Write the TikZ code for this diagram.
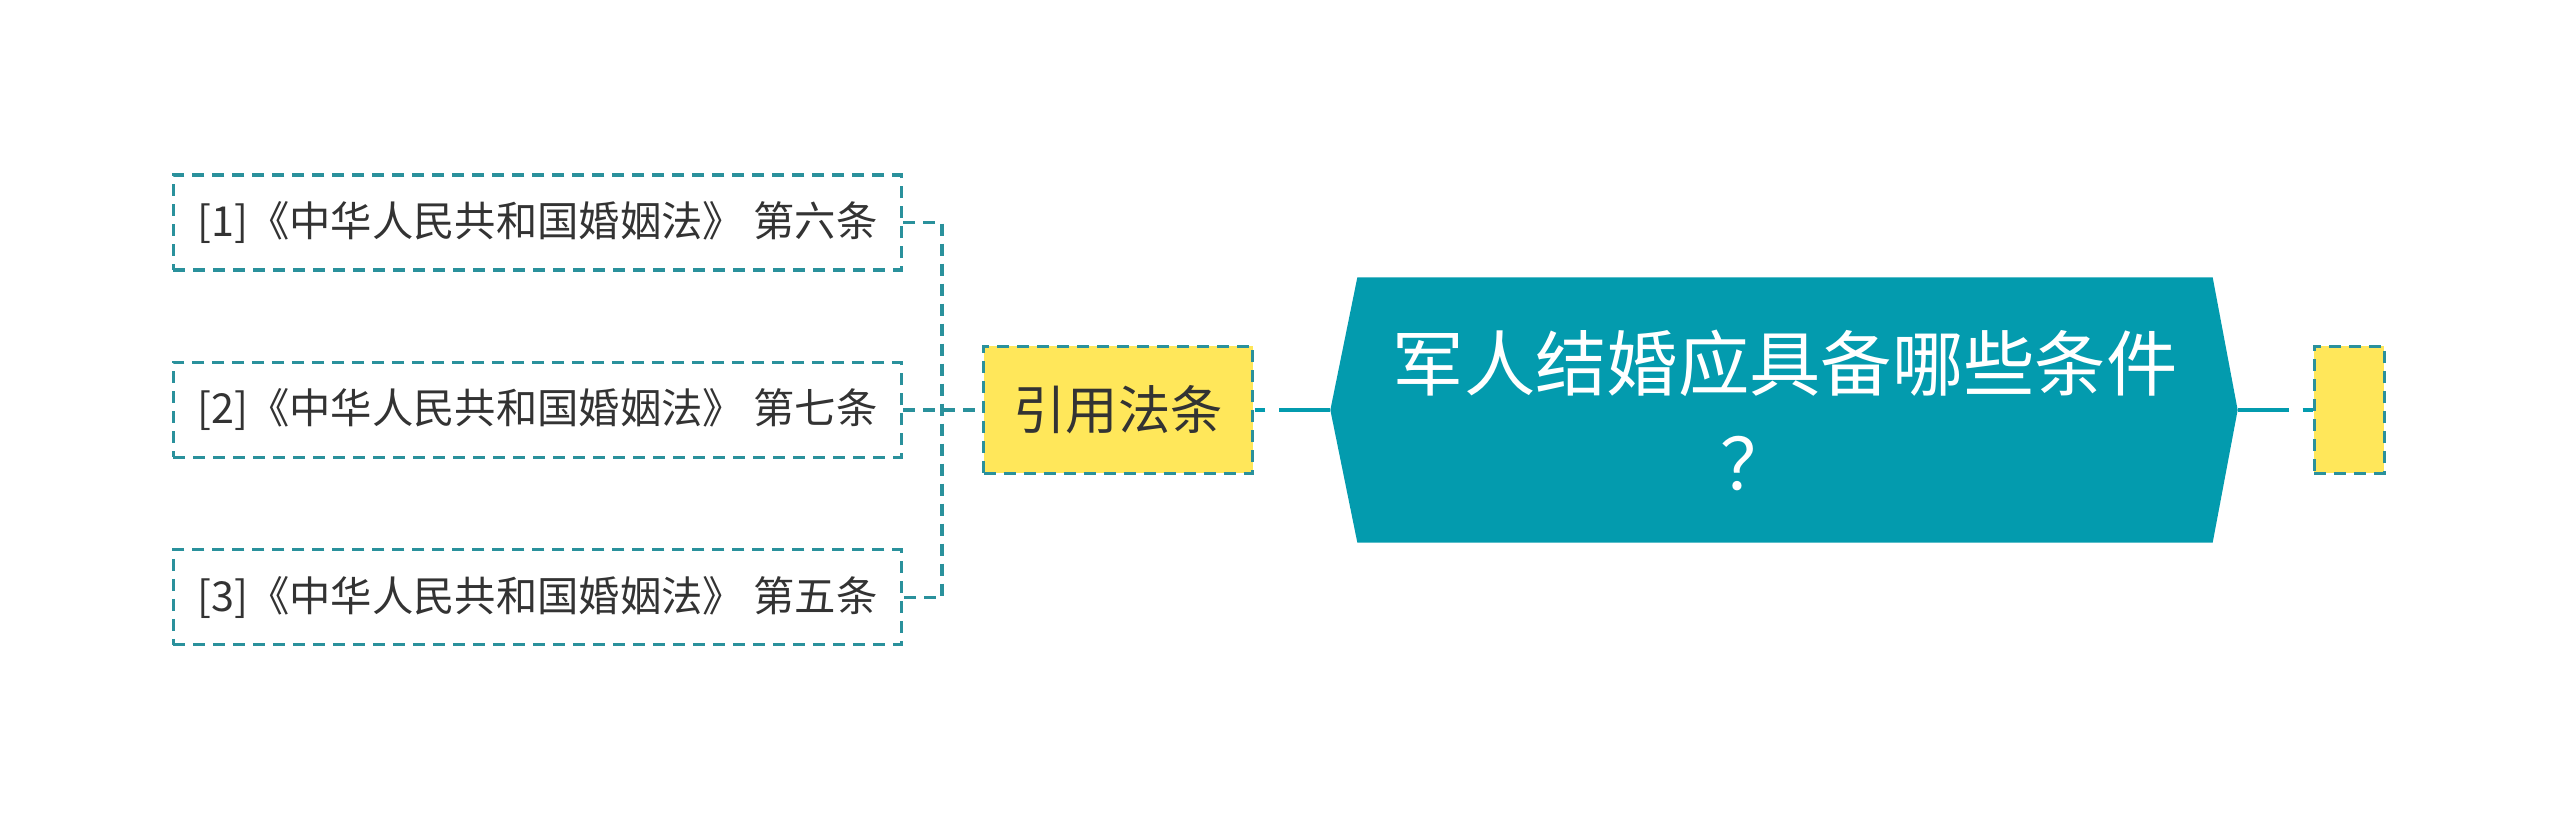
\documentclass[tikz,border=0pt]{standalone}
\usepackage{fontspec}
\setmainfont{Noto Sans CJK SC}
\usetikzlibrary{positioning, calc, backgrounds}
\definecolor{mapteal}{HTML}{039BAE}
\definecolor{mapline}{HTML}{2A919C}
\definecolor{mapyellow}{HTML}{FFE75A}
\definecolor{maptext}{HTML}{333333}
\tikzset{
  topic/.style={text=white, font=\fontsize{21.4}{30}\selectfont, align=center, minimum width=256.2pt, minimum height=79.2pt, inner sep=0pt},
  branch/.style={draw=mapline, line width=1pt, dash pattern=on 3.6pt off 2.4pt, fill=mapyellow, text=maptext, font=\fontsize{15.7}{18}\selectfont, minimum width=80.7pt, minimum height=38.1pt, inner sep=0pt},
  leaf/.style={draw=mapline, line width=1pt, dash pattern=on 3.6pt off 2.4pt, text=maptext, font=\fontsize{12.4}{14}\selectfont, minimum width=218.4pt, inner xsep=6pt, inner ysep=0pt, minimum height=28.5pt},
  link/.style={draw=mapline, line width=1pt, dash pattern=on 3.6pt off 2.4pt},
  trunk/.style={draw=mapteal, line width=1.2pt, dash pattern=on 15.3pt off 4.2pt on 3pt off 20pt}
}
\begin{document}
\begin{tikzpicture}[x=0.3pt, y=-0.3pt]
\useasboundingbox (0,0) rectangle (2560,821);

\node[topic](topic) at (1785,410){军人结婚应具备哪些条件\\？\hspace*{0.8em}};
\coordinate (tipL) at ($(topic.west)+(-27,0)$);
\coordinate (tipR) at ($(topic.east)+(25,0)$);
\begin{scope}[on background layer]
\fill[mapteal] (topic.north west) -- (topic.north east) -- (tipR) -- (topic.south east) -- (topic.south west) -- (tipL) -- cycle;
\end{scope}

\node[branch, left=30.9pt of topic](cite){引用法条};
\node[branch, minimum width=21pt, right=30pt of topic](blank){};

\node[leaf, left=23.7pt of cite](law2){[2]《中华人民共和国婚姻法》 第七条};
\node[leaf, above=26.7pt of law2](law1){[1]《中华人民共和国婚姻法》 第六条};
\node[leaf, below=26.7pt of law2](law3){[3]《中华人民共和国婚姻法》 第五条};
\coordinate[right=11.7pt of law2.east](fork);

\draw[link] (law1.east) -- (law1.east -| fork) -- (law3.east -| fork) -- (law3.east);
\draw[link] (law2.east) -- (cite.west);

\draw[trunk] (tipL) -- (cite.east);
\draw[trunk] (tipR) -- (blank.west);
\end{tikzpicture}
\end{document}
